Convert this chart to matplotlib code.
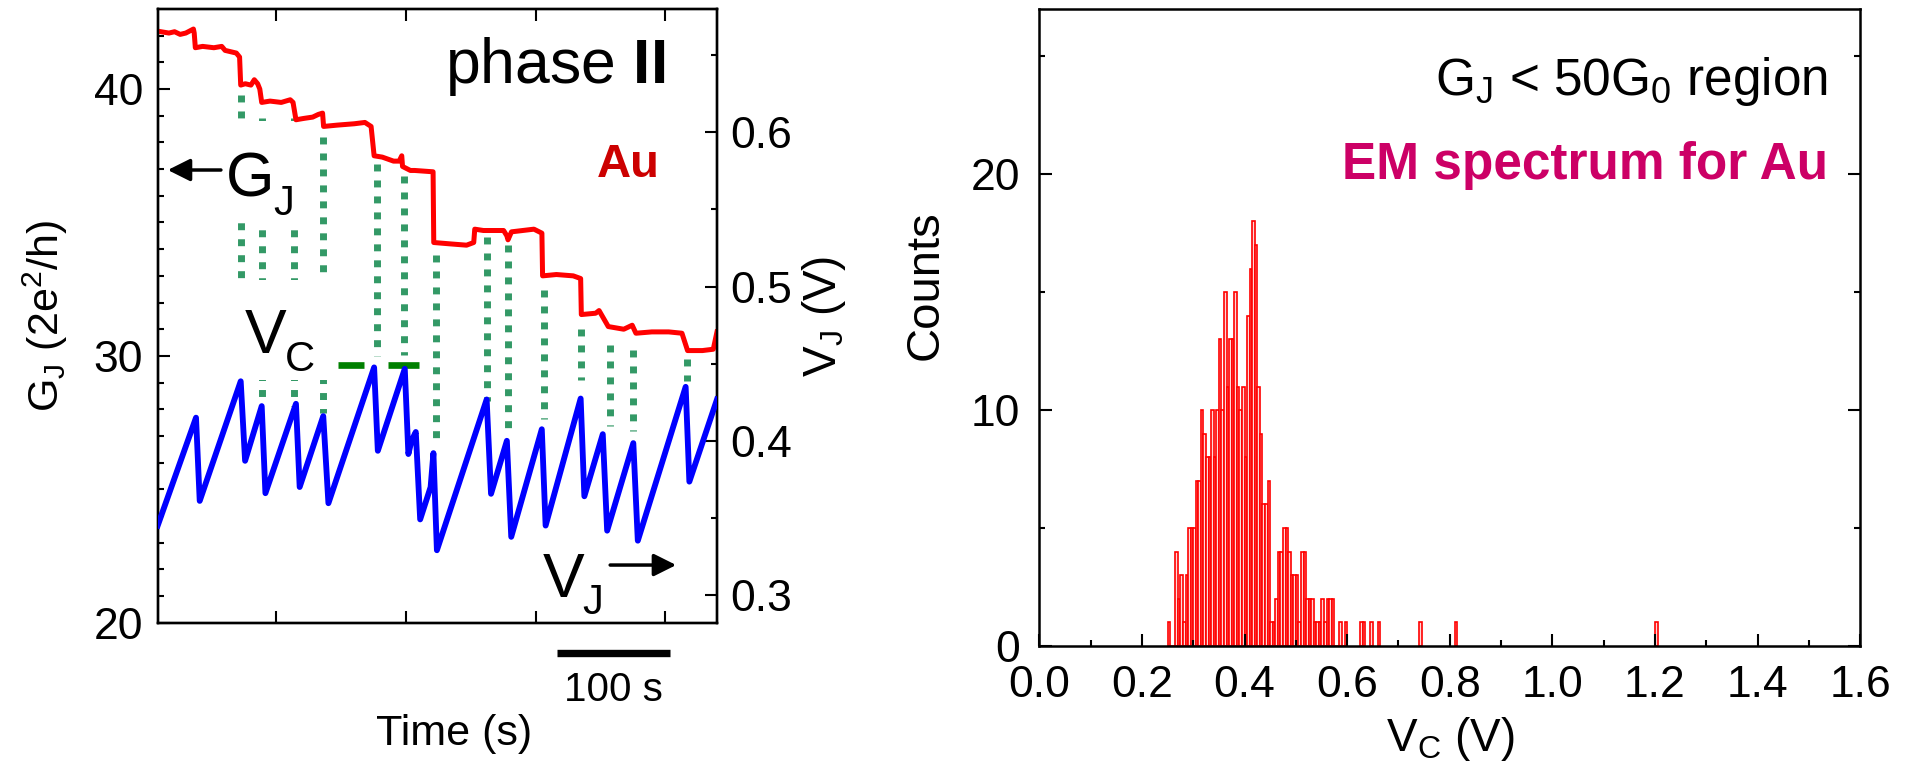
import numpy as np
import matplotlib
matplotlib.use('Agg')
import matplotlib.pyplot as plt
from matplotlib.patches import Rectangle


plt.rcParams['font.family'] = ['Liberation Sans', 'DejaVu Sans']
plt.rcParams['mathtext.fontset'] = 'custom'
plt.rcParams['mathtext.rm'] = 'Liberation Sans'
plt.rcParams['mathtext.it'] = 'Liberation Sans:italic'
plt.rcParams['mathtext.bf'] = 'Liberation Sans:bold'

# left panel, conductance G_J (2e^2/h) against time (s)
g_time = [0, 10, 15, 20, 25, 31.8, 32.5, 33.5, 40, 50, 57, 60, 65, 70, 72.9,
          73.9, 78, 83, 86, 89, 90.9, 92.6, 100, 110, 118, 120.5, 123.1, 130,
          138, 143, 146.8, 147.7, 160, 175, 184.5, 190, 192.7, 200, 210, 215,
          217.3, 218, 225, 228.8, 245.2, 245.8, 260, 275, 281.4, 282.3, 290,
          300, 308, 310.9, 311.9, 315, 325, 335, 342.1, 342.7, 355, 370, 376.6,
          377.2, 390, 393, 401.2, 415, 422.5, 425.8, 440, 455, 466.8, 471.8,
          485, 494.7, 498]
g_vals = [42.17, 42.1, 42.15, 42.05, 42.1, 42.25, 42.1, 41.55, 41.6, 41.55,
          41.6, 41.45, 41.4, 41.35, 41.2, 40.15, 40.2, 40.15, 40.35, 40.2,
          40.0, 39.5, 39.55, 39.5, 39.6, 39.5, 38.85, 38.9, 38.95, 39.05,
          39.1, 38.6, 38.65, 38.7, 38.75, 38.6, 37.5, 37.45, 37.3, 37.3, 37.5,
          37.1, 36.95, 36.95, 36.9, 34.25, 34.2, 34.15, 34.25, 34.75, 34.7,
          34.7, 34.7, 34.5, 34.35, 34.65, 34.7, 34.75, 34.6, 33.0, 33.05,
          33.0, 32.9, 31.55, 31.6, 31.7, 31.1, 31.0, 31.15, 30.85, 30.9, 30.9,
          30.85, 30.2, 30.2, 30.25, 30.9]

# junction voltage V_J (V), sawtooth
v_time = [0, 34.1, 37.4, 73.9, 77.8, 92.6, 95.9, 123.1, 126.4, 147.4, 152.0,
          192.7, 196.0, 220.0, 223.2, 226.0, 229.8, 233.7, 243.0, 245.5,
          248.6, 292.9, 296.8, 310.9, 314.8, 342.0, 345.4, 376.6, 379.9,
          396.3, 400.2, 423.5, 427.5, 470.1, 473.4, 498]
v_vals = [0.345, 0.415, 0.361, 0.4386, 0.387, 0.4225, 0.366, 0.424, 0.370,
          0.416, 0.3595, 0.4476, 0.3935, 0.4467, 0.3914, 0.400, 0.4057,
          0.349, 0.370, 0.392, 0.329, 0.4268, 0.3656, 0.400, 0.3377, 0.4075,
          0.345, 0.4274, 0.364, 0.4043, 0.3417, 0.3985, 0.3352, 0.435,
          0.3735, 0.4268]

# dotted markers from G step down to the V_C peak
mark_time = [73.9, 92.6, 121.5, 147.4, 195.3, 219.3, 247.9, 292.8, 311.9,
             344.0, 376.6, 402.5, 423.2, 471.1]
mark_top_g = [39.76, 38.9, 38.9, 38.2, 37.2, 36.76, 33.77, 34.44, 34.15,
              32.46, 31.0, 30.4, 30.21, 29.87]
mark_bot_v = [0.4386, 0.428, 0.4225, 0.418, 0.4547, 0.4558, 0.3967, 0.4257,
              0.4032, 0.4139, 0.4397, 0.4096, 0.4064, 0.4386]

vc_bar_start = [160.5, 204.8]
vc_bar_end = [183.5, 233.0]
vc_bar_level = 0.4493

time_ticks = [105, 221, 337, 452]
scale_bar = [355.8, 455.8]

# right panel, histogram of V_C (V), bins of 0.005 V from 0.250 V
hist_start = 0.25
hist_width = 0.005
hist_counts = [1, 0, 0, 4, 2, 3, 1, 3, 5, 5,
               5, 7, 7, 10, 9, 8, 8, 10, 8, 10,
               13, 10, 15, 11, 13, 13, 15, 11, 10, 11,
               8, 14, 16, 18, 17, 11, 9, 6, 6, 7,
               1, 1, 2, 4, 4, 5, 5, 4, 3, 3,
               3, 1, 4, 4, 2, 2, 2, 1, 1, 1,
               2, 1, 2, 2, 2, 0, 0, 1, 0, 1]
outlier_vc = [0.625, 0.630, 0.645, 0.660, 0.740, 0.810, 1.200]
outlier_counts = [1, 1, 1, 1, 1, 1, 1]

g_lim = (20, 43)
v_lim = (0.282, 0.680)

fig = plt.figure(figsize=(19.14, 7.79), dpi=100)
ax = fig.add_axes([0.0824, 0.2006, 0.2922, 0.7878])
ax2 = ax.twinx()

green = '#339966'
for t, top, bot in zip(mark_time, mark_top_g, mark_bot_v):
    bot_g = g_lim[0] + (bot - v_lim[0]) * (g_lim[1] - g_lim[0]) / (v_lim[1] - v_lim[0])
    ax.plot([t, t], [top, bot_g], color=green, lw=5, ls=(0, (1, 1.3)),
            solid_capstyle='butt', dash_capstyle='butt', zorder=2)

# white boxes behind the G_J and V_C labels
ax.add_patch(Rectangle((0.115, 0.651), 0.16, 0.166, transform=ax.transAxes,
                       fc='white', ec='none', zorder=3))
ax.add_patch(Rectangle((0.12, 0.3955), 0.19, 0.163, transform=ax.transAxes,
                       fc='white', ec='none', zorder=3))

ax.plot(g_time, g_vals, color='#ff0000', lw=3.6, zorder=4)
ax2.plot(v_time, v_vals, color='#0000ff', lw=4.2, zorder=4)
for s, e in zip(vc_bar_start, vc_bar_end):
    ax2.plot([s, e], [vc_bar_level, vc_bar_level], color='#008000', lw=4.8,
             solid_capstyle='butt')

ax.set_xlim(0, 498)
ax.set_ylim(*g_lim)
ax2.set_ylim(*v_lim)
ax.set_xticks(time_ticks)
ax.set_xticklabels([])
ax.set_yticks([20, 30, 40])
ax.set_yticks(np.arange(21, 43, 1), minor=True)
ax2.set_yticks([0.3, 0.4, 0.5, 0.6])
ax2.set_yticks([0.35, 0.45, 0.55, 0.65], minor=True)
ax2.set_yticklabels(['0.3', '0.4', '0.5', '0.6'])
ax.tick_params(axis='x', which='major', direction='in', top=True, bottom=True,
               length=8.6, width=1.5)
ax.tick_params(axis='y', which='major', direction='in', length=8.6, width=1.5,
               labelsize=32, pad=10.5)
ax.tick_params(axis='y', which='minor', direction='in', length=4.3, width=1.5)
ax2.tick_params(axis='y', which='major', direction='in', length=8.6, width=1.5,
                labelsize=32, pad=9.5)
ax2.tick_params(axis='y', which='minor', direction='in', length=4.3, width=1.5)
for a in (ax, ax2):
    for sp in a.spines.values():
        sp.set_linewidth(1.7)

ax.set_ylabel(r'$\mathrm{G_J}$ (2e$^2$/h)', fontsize=31)
ax.yaxis.set_label_coords(-0.157, 0.5)
ax2.set_ylabel(r'$\mathrm{V_J}$ (V)', fontsize=33)
ax2.yaxis.set_label_coords(1.148, 0.5)
ax.text(0.53, -0.2, 'Time (s)', transform=ax.transAxes, fontsize=31,
        ha='center', va='baseline')

# scale bar
bar_tr = ax.get_xaxis_transform()
ax.plot(scale_bar, [-0.0494, -0.0494], color='black', lw=5.3,
        solid_capstyle='butt', transform=bar_tr, clip_on=False)
ax.text(np.mean(scale_bar), -0.11, '100 s', transform=bar_tr, fontsize=29,
        ha='center', va='center')

ax2.text(0.907, 0.879, r'phase $\mathbf{II}$', transform=ax.transAxes,
         fontsize=45, ha='right', va='baseline')
ax2.text(0.842, 0.726, 'Au', transform=ax.transAxes, fontsize=34,
         fontweight='bold', color='#cc0000', ha='center', va='baseline')

# big letters with subscripts sitting low on the baseline
ax2.text(0.121, 0.694, 'G', transform=ax.transAxes, fontsize=45,
         ha='left', va='baseline')
ax2.text(0.207, 0.664, 'J', transform=ax.transAxes, fontsize=30,
         ha='left', va='baseline')
ax2.text(0.155, 0.4393, 'V', transform=ax.transAxes, fontsize=45,
         ha='left', va='baseline')
ax2.text(0.228, 0.410, 'C', transform=ax.transAxes, fontsize=30,
         ha='left', va='baseline')
ax2.text(0.688, 0.0419, 'V', transform=ax.transAxes, fontsize=45,
         ha='left', va='baseline')
ax2.text(0.76, 0.014, 'J', transform=ax.transAxes, fontsize=30,
         ha='left', va='baseline')
ax2.annotate('', xy=(0.018, 0.7377), xytext=(0.113, 0.7377),
             xycoords='axes fraction',
             arrowprops=dict(arrowstyle='-|>', lw=2.5, color='black',
                             mutation_scale=34, shrinkA=0, shrinkB=0))
ax2.annotate('', xy=(0.927, 0.094), xytext=(0.809, 0.094),
             xycoords='axes fraction',
             arrowprops=dict(arrowstyle='-|>', lw=2.5, color='black',
                             mutation_scale=34, shrinkA=0, shrinkB=0))

# right panel
bx = fig.add_axes([0.543, 0.1707, 0.4289, 0.8177])
edges = hist_start + hist_width * np.arange(len(hist_counts))
bx.bar(edges, hist_counts, width=hist_width, align='edge', fc='#ffd8d8',
       ec='#ff0000', lw=1.2)
bx.bar(outlier_vc, outlier_counts, width=hist_width, align='edge',
       fc='#ffd8d8', ec='#ff0000', lw=1.2)
bx.set_xlim(0, 1.6)
bx.set_ylim(0, 27)
bx.set_xticks(np.arange(0, 1.61, 0.2))
bx.set_xticklabels(['%.1f' % v for v in np.arange(0, 1.61, 0.2)])
bx.set_xticks(np.arange(0.1, 1.6, 0.2), minor=True)
bx.set_yticks([0, 10, 20])
bx.set_yticks([5, 15, 25], minor=True)
bx.tick_params(which='major', direction='in', length=9, width=1.5,
               labelsize=32, pad=14, right=True)
bx.tick_params(which='minor', direction='in', length=4.5, width=1.5,
               right=True)
for sp in bx.spines.values():
    sp.set_linewidth(1.8)
bx.set_ylabel('Counts', fontsize=34)
bx.yaxis.set_label_coords(-0.112, 0.566)
bx.set_xlabel(r'$\mathrm{V_C}$ (V)', fontsize=33, labelpad=6)

bx.text(0.9607, 0.865, r'$\mathrm{G_J}$ < 50$\mathrm{G_0}$ region',
        transform=bx.transAxes, fontsize=37, ha='right', va='baseline')
bx.text(0.9607, 0.733, 'EM spectrum for Au', transform=bx.transAxes,
        fontsize=37, fontweight='bold', color='#cc0066', ha='right',
        va='baseline')

fig.savefig('out.png', dpi=100)
